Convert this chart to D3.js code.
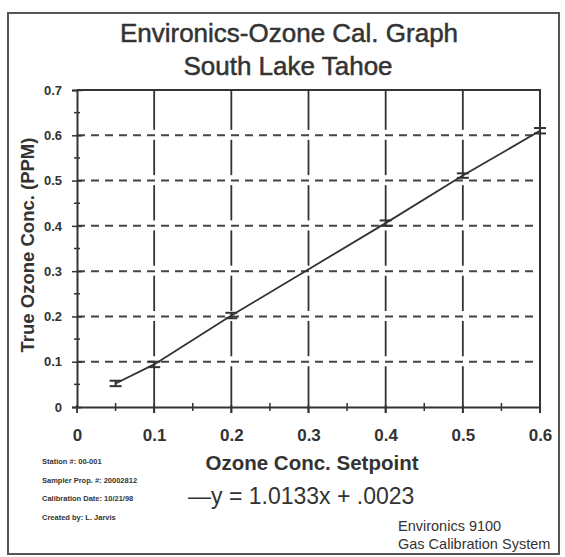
<!DOCTYPE html>
<html>
<head>
<meta charset="utf-8">
<script src="https://cdn.jsdelivr.net/npm/d3@7"></script>
<style>
  body { margin: 0; background: #fff; }
  text { font-family: "Liberation Sans", Arial, sans-serif; fill: #333; }
</style>
</head>
<body>
<div id="chart"></div>
<script>
// calibration points
var setpoints = [0.05, 0.1, 0.2, 0.4, 0.5, 0.6]
var trueConc = [0.052, 0.094, 0.202, 0.406, 0.511, 0.61]
var errBars = [0.006, 0.006, 0.006, 0.006, 0.005, 0.006]

var xTicks = [0, 0.1, 0.2, 0.3, 0.4, 0.5, 0.6]
var xTickLabels = ["0", "0.1", "0.2", "0.3", "0.4", "0.5", "0.6"]
var yTicks = [0, 0.1, 0.2, 0.3, 0.4, 0.5, 0.6, 0.7]
var yTickLabels = ["0", "0.1", "0.2", "0.3", "0.4", "0.5", "0.6", "0.7"]
var xMinor = [0.05, 0.15, 0.25, 0.35, 0.45, 0.55]
var yMinor = [0.05, 0.15, 0.25, 0.35, 0.45, 0.55, 0.65]

var notes = ["Station #: 00-001", "Sampler Prop. #: 20002812", "Calibration Date: 10/21/98", "Created by: L. Jarvis"]
var equation = "\u2014y = 1.0133x + .0023"
var footer = ["Environics 9100", "Gas Calibration System"]

var width = 565, height = 557

var svg = d3.select("#chart")
    .append("svg")
    .attr("width", width)
    .attr("height", height)

// outer frame round the whole sheet
svg.append("rect")
    .attr("x", 8).attr("y", 13)
    .attr("width", 551).attr("height", 541)
    .attr("fill", "#fff")
    .attr("stroke", "#555")
    .attr("stroke-width", 2)

var x = d3.scaleLinear().domain([0, 0.6]).range([77, 540])
var y = d3.scaleLinear().domain([0, 0.7]).range([407, 90])

// titles (a thin stroke thickens them like the photocopy)
svg.append("text")
    .attr("x", 289).attr("y", 42)
    .attr("text-anchor", "middle")
    .style("font-size", "26px")
    .style("stroke", "#333").style("stroke-width", 0.5)
    .text("Environics-Ozone Cal. Graph")
svg.append("text")
    .attr("x", 288).attr("y", 75)
    .attr("text-anchor", "middle")
    .style("font-size", "26px")
    .style("stroke", "#333").style("stroke-width", 0.5)
    .text("South Lake Tahoe")

// dashed horizontal grid
svg.append("g")
    .selectAll("line")
    .data(yTicks.slice(1, 7))
    .enter()
    .append("line")
    .attr("x1", x(0)).attr("x2", x(0.6))
    .attr("y1", function(d) { return y(d) })
    .attr("y2", function(d) { return y(d) })
    .attr("stroke", "#444")
    .attr("stroke-width", 2)
    .attr("stroke-dasharray", "8,6")

// vertical grid, broken near each dashed line like on the copy
var band = y(0) - y(0.1)
var segs = []
xTicks.slice(1, 6).forEach(function(xv) {
    for (var k = 0; k < 7; k++) {
        segs.push({x: xv, lo: k / 10, hi: (k + 1) / 10})
    }
})
svg.append("g")
    .selectAll("line")
    .data(segs)
    .enter()
    .append("line")
    .attr("x1", function(d) { return x(d.x) })
    .attr("x2", function(d) { return x(d.x) })
    .attr("y1", function(d) { return d.lo === 0 ? y(0) + 6 : y(d.lo) - band * 0.12 })
    .attr("y2", function(d) { return d.hi === 0.7 ? y(0.7) : y(d.hi) + band * 0.1 })
    .attr("stroke", "#333")
    .attr("stroke-width", 1.8)

// plot frame: top and right solid, axes left and bottom
svg.append("path")
    .attr("d", "M" + x(0) + "," + y(0.7) + "H" + x(0.6) + "V" + (y(0) + 6))
    .attr("fill", "none")
    .attr("stroke", "#333")
    .attr("stroke-width", 2)

var xAxis = svg.append("g")
    .attr("transform", "translate(0," + y(0) + ")")
    .call(d3.axisBottom(x).tickValues(xTicks).tickSize(0).tickPadding(22)
        .tickFormat(function(d, i) { return xTickLabels[i] }))
xAxis.select(".domain").attr("stroke", "#333").attr("stroke-width", 2)
xAxis.selectAll("text")
    .style("font-size", "17px")
    .style("font-weight", "bold")

var yAxis = svg.append("g")
    .attr("transform", "translate(" + x(0) + ",0)")
    .call(d3.axisLeft(y).tickValues(yTicks).tickSize(5).tickPadding(10)
        .tickFormat(function(d, i) { return yTickLabels[i] }))
yAxis.select(".domain").attr("stroke", "#333").attr("stroke-width", 2)
yAxis.selectAll(".tick line").attr("x2", -5).attr("x1", 5).attr("stroke", "#333").attr("stroke-width", 1.5)
yAxis.selectAll("text")
    .style("font-size", "13px")
    .style("font-weight", "bold")

// minor ticks
svg.append("g")
    .selectAll("line")
    .data(yMinor)
    .enter()
    .append("line")
    .attr("x1", x(0) - 3).attr("x2", x(0) + 3)
    .attr("y1", function(d) { return y(d) })
    .attr("y2", function(d) { return y(d) })
    .attr("stroke", "#333").attr("stroke-width", 1.5)
svg.append("g")
    .selectAll("line")
    .data(xMinor)
    .enter()
    .append("line")
    .attr("x1", function(d) { return x(d) })
    .attr("x2", function(d) { return x(d) })
    .attr("y1", y(0) - 4).attr("y2", y(0) + 4)
    .attr("stroke", "#333").attr("stroke-width", 1.5)
// major x ticks run a little past the axis
svg.append("g")
    .selectAll("line")
    .data(xTicks)
    .enter()
    .append("line")
    .attr("x1", function(d) { return x(d) })
    .attr("x2", function(d) { return x(d) })
    .attr("y1", y(0) - 2).attr("y2", y(0) + 6)
    .attr("stroke", "#333").attr("stroke-width", 1.8)

// axis titles
svg.append("text")
    .attr("x", 312).attr("y", 470)
    .attr("text-anchor", "middle")
    .style("font-size", "20.5px")
    .style("font-weight", "bold")
    .text("Ozone Conc. Setpoint")
svg.append("text")
    .attr("transform", "translate(34," + 245 + ") rotate(-90)")
    .attr("text-anchor", "middle")
    .style("font-size", "18.5px")
    .style("font-weight", "bold")
    .text("True Ozone Conc. (PPM)")

// data line
var points = setpoints.map(function(s, i) { return {x: s, y: trueConc[i], e: errBars[i]} })
svg.append("path")
    .datum(points)
    .attr("fill", "none")
    .attr("stroke", "#333")
    .attr("stroke-width", 1.8)
    .attr("d", d3.line()
        .x(function(d) { return x(d.x) })
        .y(function(d) { return y(d.y) }))

// error bars
var eb = svg.append("g").selectAll("g")
    .data(points)
    .enter()
    .append("g")
    .attr("stroke", "#333")
    .attr("stroke-width", 2)
eb.append("line")
    .attr("x1", function(d) { return x(d.x) })
    .attr("x2", function(d) { return x(d.x) })
    .attr("y1", function(d) { return y(d.y - d.e) })
    .attr("y2", function(d) { return y(d.y + d.e) })
eb.append("line")
    .attr("x1", function(d) { return x(d.x) - 6 })
    .attr("x2", function(d) { return x(d.x) + 6 })
    .attr("y1", function(d) { return y(d.y - d.e) })
    .attr("y2", function(d) { return y(d.y - d.e) })
eb.append("line")
    .attr("x1", function(d) { return x(d.x) - 6 })
    .attr("x2", function(d) { return x(d.x) + 6 })
    .attr("y1", function(d) { return y(d.y + d.e) })
    .attr("y2", function(d) { return y(d.y + d.e) })

// small notes bottom left
svg.append("g")
    .selectAll("text")
    .data(notes)
    .enter()
    .append("text")
    .attr("x", 42)
    .attr("y", function(d, i) { return 464 + i * 18.5 })
    .style("font-size", "7.5px")
    .style("font-weight", "bold")
    .text(function(d) { return d })

svg.append("text")
    .attr("x", 188).attr("y", 504)
    .style("font-size", "23px")
    .text(equation)

svg.append("g")
    .selectAll("text")
    .data(footer)
    .enter()
    .append("text")
    .attr("x", 398)
    .attr("y", function(d, i) { return 531 + i * 18 })
    .style("font-size", "14.5px")
    .text(function(d) { return d })
</script>
</body>
</html>
